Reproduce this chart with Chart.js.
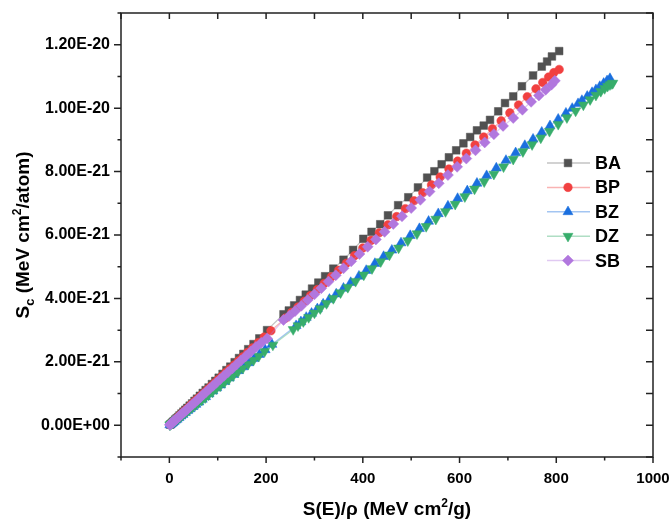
<!DOCTYPE html>
<html>
<head>
<meta charset="utf-8">
<script src="https://cdn.jsdelivr.net/npm/chart.js@4.4.0/dist/chart.umd.min.js"></script>
<style>
html, body { margin: 0; padding: 0; background: #fff; }
#wrap { width: 672px; height: 519px; }
</style>
</head>
<body>
<div id="wrap"><canvas id="chart" width="672" height="519"></canvas></div>
<script>
"use strict";

// S(E)/rho in MeV cm2/g, Sc in units of 1e-21 MeV cm2/atom
var baX = [1.5,3,5,7,9,12,15,18,21,25,29,33,37,42,47,52,57,63,69,75,81,88,95,102,110,118,126,135,144,153,163,174,186,202,236,247,258,270,282,295,308,322,339,360,380,401,418,436,452,473,494,514,533,548,563,578,593,608,622,636,650,663,680,694,711,729,752,770,781,791,806];
var baY = [0.02,0.04,0.07,0.10,0.13,0.18,0.22,0.26,0.31,0.37,0.43,0.49,0.55,0.62,0.69,0.77,0.84,0.93,1.02,1.11,1.19,1.30,1.40,1.50,1.62,1.74,1.85,1.99,2.12,2.25,2.40,2.56,2.74,3.00,3.50,3.62,3.78,3.95,4.12,4.31,4.50,4.70,4.94,5.22,5.53,5.88,6.10,6.34,6.62,6.94,7.19,7.50,7.81,8.01,8.23,8.45,8.67,8.89,9.09,9.30,9.45,9.63,9.90,10.16,10.37,10.69,11.03,11.31,11.47,11.63,11.80];

var bpX = [2,4,6,8,11,14,17,20,24,28,32,36,41,46,51,56,62,68,74,80,87,94,101,109,117,125,134,143,152,162,172,184,196,210,240,253,266,279,292,306,320,335,350,366,383,400,417,434,452,470,488,506,524,542,560,578,596,614,632,650,668,686,704,722,740,758,772,784,795,806];
var bpY = [0.03,0.06,0.085,0.11,0.16,0.20,0.24,0.29,0.34,0.40,0.46,0.51,0.58,0.66,0.73,0.80,0.88,0.97,1.05,1.14,1.24,1.34,1.44,1.55,1.67,1.78,1.90,2.03,2.16,2.30,2.44,2.61,2.78,2.98,3.38,3.56,3.73,3.91,4.09,4.28,4.47,4.68,4.89,5.11,5.35,5.59,5.83,6.07,6.32,6.58,6.83,7.08,7.33,7.58,7.83,8.08,8.33,8.58,8.84,9.09,9.35,9.60,9.85,10.10,10.36,10.61,10.81,10.98,11.12,11.22];

var bzX = [1,3,5,7,10,13,16,20,24,28,33,38,43,49,55,61,68,75,82,90,98,106,115,124,133,143,153,164,175,186,198,212,262,272,283,294,306,318,331,345,360,375,392,407,425,443,460,479,498,517,536,556,576,596,616,636,656,676,696,716,735,752,770,787,804,820,833,845,853,864,874,882,890,898,905,911];
var bzY = [0.012,0.036,0.06,0.085,0.12,0.16,0.19,0.24,0.29,0.34,0.40,0.46,0.52,0.59,0.66,0.73,0.82,0.90,0.99,1.08,1.18,1.27,1.38,1.49,1.60,1.72,1.84,1.97,2.10,2.23,2.38,2.55,3.14,3.26,3.40,3.53,3.67,3.82,3.97,4.14,4.32,4.50,4.70,4.88,5.10,5.32,5.52,5.75,5.98,6.20,6.43,6.67,6.91,7.15,7.39,7.63,7.87,8.11,8.35,8.59,8.82,9.02,9.24,9.44,9.65,9.84,9.99,10.14,10.24,10.37,10.49,10.58,10.68,10.78,10.86,10.93];

var dzX = [1,2,4,6,9,12,15,19,23,27,32,37,42,48,54,60,67,74,81,89,97,105,114,123,132,142,152,163,174,185,197,214,256,266,277,288,300,312,325,339,354,369,385,402,419,437,455,474,493,512,531,551,571,591,611,631,651,671,691,711,731,750,768,786,804,822,840,856,870,882,892,900,906,911,915,917];
var dzY = [0.012,0.024,0.047,0.07,0.106,0.14,0.18,0.22,0.27,0.32,0.38,0.44,0.50,0.57,0.64,0.71,0.79,0.87,0.96,1.05,1.15,1.24,1.35,1.45,1.56,1.68,1.80,1.93,2.05,2.18,2.33,2.53,3.02,3.14,3.27,3.40,3.54,3.68,3.84,4.00,4.18,4.35,4.54,4.74,4.94,5.16,5.37,5.59,5.82,6.04,6.27,6.50,6.74,6.97,7.21,7.45,7.68,7.92,8.15,8.39,8.63,8.85,9.06,9.27,9.49,9.70,9.91,10.10,10.27,10.41,10.53,10.62,10.69,10.74,10.77,10.79];

var sbX = [1,2.5,4,6,8,10,13,16,19,22,26,30,34,38,43,48,53,58,64,70,76,83,90,97,105,113,121,130,139,148,158,168,179,190,202,236,248,260,273,286,300,314,329,344,360,376,393,410,427,445,463,481,500,519,538,557,576,595,614,633,652,671,690,711,730,748,764,778,790,797];
var sbY = [0.014,0.035,0.055,0.083,0.11,0.14,0.18,0.22,0.26,0.30,0.36,0.41,0.47,0.52,0.59,0.66,0.73,0.80,0.88,0.97,1.05,1.15,1.24,1.34,1.45,1.56,1.67,1.79,1.92,2.04,2.18,2.32,2.47,2.60,2.74,3.32,3.45,3.60,3.77,3.95,4.13,4.32,4.53,4.73,4.95,5.17,5.40,5.63,5.86,6.10,6.35,6.59,6.85,7.11,7.37,7.63,7.89,8.15,8.41,8.67,8.92,9.18,9.44,9.69,9.95,10.20,10.40,10.58,10.74,10.86];

var xTicks = [0, 200, 400, 600, 800, 1000];
var yTicks = [0, 2, 4, 6, 8, 10, 12];

var FONT = "Arial, 'Liberation Sans', sans-serif";

function pts(xs, ys) {
  return xs.map(function(x, i) { return {x: x, y: ys[i]}; });
}

function formatSci(v) {
  var s = (v * 1e-21).toExponential(2).toUpperCase();
  return s.replace(/E([+-])(\d)$/, function(m, sign, d) { return "E" + sign + "0" + d; });
}

function series(label, xs, ys, color, line, style, radius, rot, order) {
  return {
    label: label,
    data: pts(xs, ys),
    showLine: true,
    borderColor: line,
    borderWidth: 1.2,
    backgroundColor: color,
    pointBackgroundColor: color,
    pointBorderColor: color,
    pointBorderWidth: 0.5,
    pointStyle: style,
    pointRadius: radius,
    pointRotation: rot,
    pointHoverRadius: radius,
    order: order
  };
}

var datasets = [
  series("BA", baX, baY, "#515151", "rgba(81,81,81,0.35)", "rect", 5.4, 0, 5),
  series("BP", bpX, bpY, "#F14040", "rgba(241,64,64,0.4)", "circle", 4.3, 0, 4),
  series("BZ", bzX, bzY, "#1A6FDF", "rgba(26,111,223,0.4)", "triangle", 5.8, 0, 3),
  series("DZ", dzX, dzY, "#37AD6B", "rgba(55,173,107,0.4)", "triangle", 5.8, 180, 2),
  series("SB", sbX, sbY, "#B177DE", "rgba(177,119,222,0.4)", "rectRot", 5.5, 0, 1)
];

function drawRich(ctx, parts, cx, base) {
  var total = 0;
  parts.forEach(function(p) {
    ctx.font = "bold " + p.size + "px " + FONT;
    p.w = ctx.measureText(p.t).width;
    total += p.w;
  });
  var x = cx - total / 2;
  ctx.textAlign = "left";
  ctx.textBaseline = "alphabetic";
  parts.forEach(function(p) {
    ctx.font = "bold " + p.size + "px " + FONT;
    ctx.fillText(p.t, x, base + (p.dy || 0));
    x += p.w;
  });
}

var framePlugin = {
  id: "frame",
  afterDraw: function(chart) {
    var ctx = chart.ctx, ca = chart.chartArea;
    var xs = chart.scales.x, ys = chart.scales.y;
    ctx.save();
    ctx.strokeStyle = "#222";
    ctx.lineWidth = 1.5;
    ctx.strokeRect(ca.left, ca.top, ca.right - ca.left, ca.bottom - ca.top);

    ctx.beginPath();
    for (var v = -100; v <= 1000; v += 100) {
      var px = xs.getPixelForValue(v);
      var major = v % 200 === 0;
      ctx.moveTo(px, ca.bottom);
      ctx.lineTo(px, ca.bottom + (major ? 6 : 3.5));
      ctx.moveTo(px, ca.top);
      ctx.lineTo(px, ca.top + 6);
    }
    for (var w = -1; w <= 13; w += 1) {
      var py = ys.getPixelForValue(w);
      var maj = w % 2 === 0;
      ctx.moveTo(ca.left, py);
      ctx.lineTo(ca.left - (maj ? 7 : 3.5), py);
      ctx.moveTo(ca.right, py);
      ctx.lineTo(ca.right - 7, py);
    }
    ctx.stroke();

    // axis titles
    ctx.fillStyle = "#000";
    var cx = (ca.left + ca.right) / 2;
    drawRich(ctx, [
      {t: "S(E)/\u03C1 (MeV cm", size: 19},
      {t: "2", size: 12, dy: -8},
      {t: "/g)", size: 19}
    ], cx, 515);

    ctx.save();
    ctx.translate(29, (ca.top + ca.bottom) / 2);
    ctx.rotate(-Math.PI / 2);
    drawRich(ctx, [
      {t: "S", size: 19},
      {t: "c", size: 13, dy: 5},
      {t: " (MeV cm", size: 19},
      {t: "2", size: 12, dy: -8},
      {t: "/atom)", size: 19}
    ], 0, 0);
    ctx.restore();

    // legend
    var lx = ca.left + 426, ly = ca.top + 150;
    chart.data.datasets.forEach(function(ds, i) {
      var y = ly + i * 24.4;
      ctx.strokeStyle = ds.borderColor;
      ctx.lineWidth = 1.5;
      ctx.beginPath();
      ctx.moveTo(lx, y);
      ctx.lineTo(lx + 43, y);
      ctx.stroke();
      ctx.fillStyle = ds.pointBackgroundColor;
      ctx.strokeStyle = ds.pointBorderColor;
      ctx.lineWidth = ds.pointBorderWidth;
      Chart.helpers.drawPoint(ctx, {
        pointStyle: ds.pointStyle,
        rotation: ds.pointRotation,
        radius: ds.pointRadius,
        borderWidth: ds.pointBorderWidth
      }, lx + 21, y);
      ctx.fillStyle = "#000";
      ctx.font = "bold 18px " + FONT;
      ctx.textAlign = "left";
      ctx.textBaseline = "middle";
      ctx.fillText(ds.label, lx + 48, y + 1);
    });
    ctx.restore();
  }
};

new Chart(document.getElementById("chart"), {
  type: "scatter",
  data: { datasets: datasets },
  options: {
    responsive: false,
    devicePixelRatio: 1,
    animation: false,
    layout: { padding: { left: 0, right: 19, top: 13, bottom: 0 } },
    plugins: {
      legend: { display: false },
      tooltip: { enabled: false }
    },
    scales: {
      x: {
        type: "linear",
        min: -100,
        max: 1000,
        afterBuildTicks: function(s) { s.ticks = xTicks.map(function(v) { return {value: v}; }); },
        afterFit: function(s) { s.height = 62; s.paddingLeft = 0; s.paddingRight = 0; },
        grid: { display: false, drawTicks: false },
        border: { display: false },
        ticks: { padding: 13, maxRotation: 0, color: "#000", font: { family: FONT, size: 15, weight: "bold" },
                 callback: function(v) { return String(v); } }
      },
      y: {
        type: "linear",
        min: -1,
        max: 13,
        afterBuildTicks: function(s) { s.ticks = yTicks.map(function(v) { return {value: v}; }); },
        afterFit: function(s) { s.width = 121; s.paddingTop = 0; s.paddingBottom = 0; },
        grid: { display: false, drawTicks: false },
        border: { display: false },
        ticks: { padding: 11, color: "#000", font: { family: FONT, size: 16, weight: "bold" }, callback: formatSci }
      }
    }
  },
  plugins: [framePlugin]
});
</script>
</body>
</html>
